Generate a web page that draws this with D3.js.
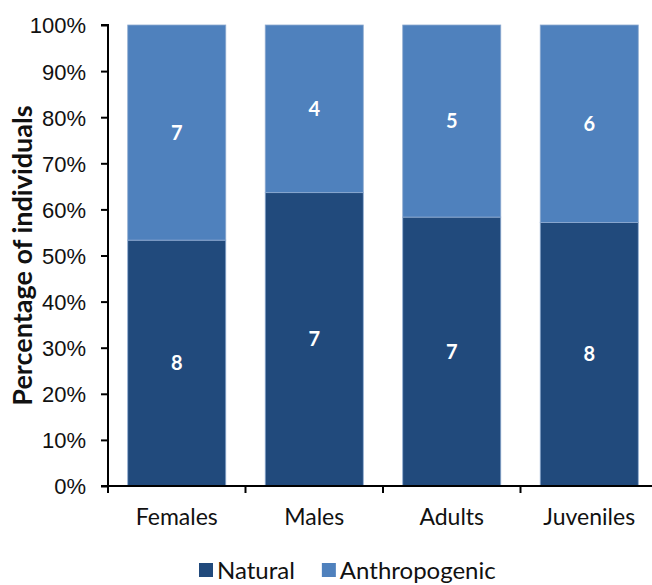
<!DOCTYPE html>
<html>
<head>
<meta charset="utf-8">
<script src="https://cdn.jsdelivr.net/npm/d3@7"></script>
<style>
  body { margin: 0; background: #fff; }
  svg { font-family: Lato, "Open Sans", sans-serif; }
</style>
</head>
<body>
<svg id="chart" width="652" height="585"></svg>
<script>
// Number of individuals per group and cause
const categories = ["Females", "Males", "Adults", "Juveniles"];
const natural = [8, 7, 7, 8];
const anthropogenic = [7, 4, 5, 6];
const seriesNames = ["Natural", "Anthropogenic"];
const seriesColors = ["#214a7c", "#4f81bd"];
const yTicks = [0, 0.1, 0.2, 0.3, 0.4, 0.5, 0.6, 0.7, 0.8, 0.9, 1.0];

const svg = d3.select("#chart");
const margin = { left: 108, right: -6, top: 25, bottom: 99 };
const W = 652, H = 585;
const x0 = margin.left, x1 = W - margin.right;
const yTop = margin.top, yBot = H - margin.bottom;

const x = d3.scaleBand().domain(categories).range([x0, x1]).paddingInner(0.287).paddingOuter(0.1435);
const y = d3.scaleLinear().domain([0, 1]).range([yBot, yTop]);

// Stack shares of each cause
const rows = categories.map((c, i) => {
  const total = natural[i] + anthropogenic[i];
  return { cat: c, Natural: natural[i] / total, Anthropogenic: anthropogenic[i] / total,
           nN: natural[i], nA: anthropogenic[i] };
});
const stack = d3.stack().keys(seriesNames)(rows);

const g = svg.append("g");
stack.forEach((layer, li) => {
  g.selectAll(null).data(layer).enter().append("rect")
    .attr("x", d => x(d.data.cat))
    .attr("y", d => y(d[1]))
    .attr("width", x.bandwidth())
    .attr("height", d => y(d[0]) - y(d[1]))
    .attr("fill", seriesColors[li])
    .attr("stroke", "#8eaad0")
    .attr("stroke-width", 0.8);
  g.selectAll(null).data(layer).enter().append("text")
    .attr("x", d => x(d.data.cat) + x.bandwidth() / 2)
    .attr("y", d => (y(d[0]) + y(d[1])) / 2 + 7)
    .attr("text-anchor", "middle")
    .attr("fill", "#fff")
    .attr("font-size", 20)
    .attr("font-weight", "bold")
    .text(d => li === 0 ? d.data.nN : d.data.nA);
});

// Y axis
const yAxis = d3.axisLeft(y).tickValues(yTicks).tickFormat(d3.format(".0%")).tickSize(7).tickPadding(15);
const ya = svg.append("g").attr("transform", `translate(${x0},0)`).call(yAxis);
ya.select(".domain").attr("stroke", "#000").attr("stroke-width", 2).attr("d", `M-7,${yTop}H0V${yBot}`);
ya.selectAll(".tick line").attr("stroke", "#000").attr("stroke-width", 2);
ya.selectAll(".tick text").attr("font-size", 22).attr("fill", "#111").attr("dy", "0.36em");

// X axis with boundary ticks
const xa = svg.append("g");
xa.append("line").attr("x1", x0 - 7).attr("x2", x1).attr("y1", yBot).attr("y2", yBot)
  .attr("stroke", "#000").attr("stroke-width", 2);
const step = x.step();
d3.range(categories.length + 1).forEach(i => {
  const xx = x0 + i * step;
  xa.append("line").attr("x1", xx).attr("x2", xx).attr("y1", yBot).attr("y2", yBot + 7)
    .attr("stroke", "#000").attr("stroke-width", 2);
});
xa.selectAll(null).data(categories).enter().append("text")
  .attr("x", d => x(d) + x.bandwidth() / 2)
  .attr("y", yBot + 39)
  .attr("text-anchor", "middle")
  .attr("font-size", 23).attr("fill", "#111")
  .text(d => d);

// Y axis title
svg.append("text")
  .attr("transform", `translate(32,${(yTop + yBot) / 2}) rotate(-90)`)
  .attr("text-anchor", "middle")
  .attr("font-size", 27).attr("font-weight", "bold").attr("fill", "#111")
  .text("Percentage of individuals");

// Legend
const legend = svg.append("g").attr("transform", "translate(199,563)");
let lx = 0;
seriesNames.forEach((name, i) => {
  legend.append("rect").attr("x", lx).attr("y", 0).attr("width", 14).attr("height", 14).attr("fill", seriesColors[i]);
  const t = legend.append("text").attr("x", lx + 18).attr("y", 16).attr("font-size", 24).attr("fill", "#111").text(name);
  lx += 18 + t.node().getComputedTextLength() + 27;
});
</script>
</body>
</html>
